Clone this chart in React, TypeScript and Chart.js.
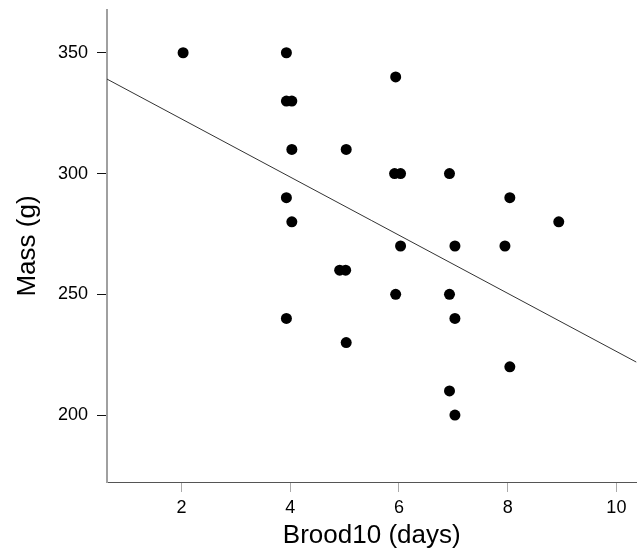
import { useEffect, useRef } from "react";
import { Chart, registerables } from "chart.js";

Chart.register(...registerables);

// Scatter data (x slightly jittered as in the original)
const broodDays = [
  2.03, 3.93, 3.93, 4.03, 4.03, 5.03, 3.93, 4.03, 3.93, 5.94, 5.92, 6.03, 6.93, 8.04,
  8.94, 6.03, 7.03, 7.95, 4.91, 5.02, 5.94, 6.93, 7.03, 5.03, 8.04, 6.93, 7.03,
];
const massG = [
  350, 350, 330, 330, 310, 310, 290, 280, 240, 340, 300, 300, 300, 290, 280, 270, 270,
  270, 260, 260, 250, 250, 240, 230, 220, 210, 200,
];

// Fitted regression line end points
const fitDays = [0.63, 10.37];
const fitMass = [339.1, 221.9];

// Tick labels
const xTicks = [2, 4, 6, 8, 10];
const yTicks = [200, 250, 300, 350];

const FONT = "'Liberation Sans', Arial, Helvetica, sans-serif";

export default function App() {
  const ref = useRef<HTMLCanvasElement | null>(null);

  useEffect(() => {
    if (!ref.current) return;
    const points = broodDays.map((x, i) => ({ x, y: massG[i] }));
    const fit = fitDays.map((x, i) => ({ x, y: fitMass[i] }));

    const chart = new Chart(ref.current, {
      type: "scatter",
      data: {
        datasets: [
          {
            label: "Mass",
            data: points,
            pointRadius: 5.5,
            pointBorderWidth: 0,
            pointBackgroundColor: "#000",
            pointBorderColor: "#000",
            order: 1,
          },
          {
            type: "line",
            label: "Fit",
            data: fit,
            showLine: true,
            pointRadius: 0,
            borderColor: "#333",
            borderWidth: 1,
            fill: false,
            order: 2,
          } as any,
        ],
      },
      options: {
        animation: false,
        responsive: false,
        layout: { padding: { top: 10, right: 5, left: 0, bottom: 0 } },
        plugins: {
          legend: { display: false },
          tooltip: { enabled: false },
        },
        scales: {
          x: {
            type: "linear",
            min: 0.63,
            max: 10.37,
            afterBuildTicks: (s: any) => {
              s.ticks = xTicks.map((v) => ({ value: v }));
            },
            afterFit: (s: any) => {
              s.height = 71;
              s.paddingLeft = 0;
              s.paddingRight = 0;
            },
            grid: {
              display: true,
              drawOnChartArea: false,
              drawTicks: true,
              tickLength: 10,
              tickColor: "#aaa",
            },
            border: { display: true, color: "#555", width: 1 },
            ticks: {
              color: "#000",
              padding: 5,
              font: { family: FONT, size: 18 },
              callback: (v: any) => String(v),
            },
            title: {
              display: true,
              text: "Brood10 (days)",
              color: "#000",
              font: { family: FONT, size: 26 },
              padding: { top: 0, bottom: 2 },
            },
          },
          y: {
            type: "linear",
            min: 172.3,
            max: 367.7,
            afterBuildTicks: (s: any) => {
              s.ticks = yTicks.map((v) => ({ value: v }));
            },
            afterFit: (s: any) => {
              s.width = 107;
              s.paddingTop = 0;
              s.paddingBottom = 0;
            },
            grid: {
              display: true,
              drawOnChartArea: false,
              drawTicks: true,
              tickLength: 10,
              tickColor: "#111",
            },
            border: { display: true, color: "#a0a0a0", width: 2 },
            ticks: {
              color: "#000",
              padding: 9,
              font: { family: FONT, size: 18 },
              callback: (v: any) => String(v),
            },
            title: {
              display: true,
              text: "Mass (g)",
              color: "#000",
              font: { family: FONT, size: 26 },
              padding: { top: 12, bottom: 0 },
            },
          },
        },
      },
    });
    return () => chart.destroy();
  }, []);

  return (
    <div style={{ position: "absolute", left: 0, top: 0, width: 642, height: 553, background: "#fff" }}>
      <canvas ref={ref} width={642} height={553} style={{ display: "block" }} />
    </div>
  );
}
